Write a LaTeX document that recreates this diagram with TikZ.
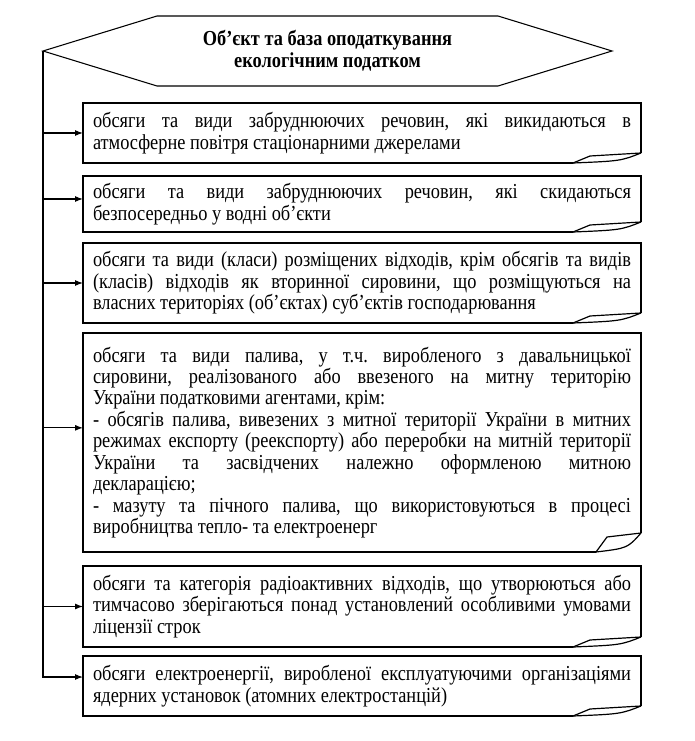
\documentclass[tikz,border=0pt]{standalone}
\usepackage{fontspec}
\setmainfont{Liberation Serif}[FakeStretch=0.86]
\usepackage{tikz}
\usetikzlibrary{arrows.meta, positioning, calc}

% outline of a text box with a curled bottom-right corner (sizes in px)
\newcommand{\pagecurl}[5]{%
  \draw[boxline] ($(#1.south east)+(-#2,0)$) -- (#1.south west) -- (#1.north west)
    -- (#1.north east) -- ($(#1.south east)+(0,-#3)$);
  \draw[boxline] ($(#1.south east)+(-#2,0)$) -- ($(#1.south east)+(-#4,-#5)$)
    -- ($(#1.south east)+(0,-#3)$);
  \draw[boxline] ($(#1.south east)+(-#2,0)$) .. controls ($(#1.south east)+(-0.3*#2,-0.2*#3)$)
    .. ($(#1.south east)+(0,-#3)$);
}

\begin{document}
\frenchspacing
\begin{tikzpicture}[
  x=0.75pt, y=-0.75pt,
  title/.style={rectangle, minimum width=426.75pt, minimum height=52.5pt, inner sep=0pt, outer sep=0pt,
    align=center, font=\fontsize{16}{16.5}\selectfont\bfseries},
  docbox/.style={rectangle, text width=403.5pt, inner xsep=7.5pt, inner ysep=0pt, outer sep=0pt,
    align=justify, font=\fontsize{16}{16.1}\selectfont},
  boxline/.style={draw=black, line width=0.9pt, line join=miter},
  hexline/.style={draw=black, line width=0.8pt},
  line/.style={draw=black, line width=0.8pt, -{Latex[length=6pt, width=4.5pt]}}
]
  \useasboundingbox (0,0) rectangle (694,741);

  \node[title] (hex) at (327.5,51) {Об’єкт та база оподаткування\\екологічним податком};
  \draw[hexline] (hex.west) -- ($(hex.north west)+(114,0)$) -- ($(hex.north east)+(-114,0)$)
    -- (hex.east) -- ($(hex.south east)+(-114,0)$) -- ($(hex.south west)+(114,0)$) -- cycle;

  \node[docbox, minimum height=45pt, anchor=north west] (air) at (83,103)
    {обсяги та види забруднюючих речовин, які викидаються в\linebreak
     атмосферне повітря стаціонарними джерелами};
  \node[docbox, minimum height=42pt, below=9.75pt of air] (water)
    {обсяги та види забруднюючих речовин, які скидаються\linebreak
     безпосередньо у водні об’єкти};
  \node[docbox, minimum height=60pt, below=8.25pt of water] (waste)
    {обсяги та види (класи) розміщених відходів, крім обсягів та видів\linebreak
     (класів) відходів як вторинної сировини, що розміщуються на\linebreak
     власних територіях (об'єктах) суб'єктів господарювання};
  \node[docbox, minimum height=164.25pt, below=7.5pt of waste] (fuel)
    {обсяги та види палива, у т.ч. виробленого з давальницької\linebreak
     сировини, реалізованого або ввезеного на митну територію\linebreak
     України податковими агентами, крім:\\
     - обсягів палива, вивезених з митної території України в митних\linebreak
     режимах експорту (реекспорту) або переробки на митній території\linebreak
     України та засвідчених належно оформленою митною\linebreak
     декларацією;\\
     - мазуту та пічного палива, що використовуються в процесі\linebreak
     виробництва тепло- та електроенерг};
  \node[docbox, minimum height=60.75pt, below=10.5pt of fuel] (radio)
    {обсяги та категорія радіоактивних відходів, що утворюються або\linebreak
     тимчасово зберігаються понад установлений особливими умовами\linebreak
     ліцензії строк};
  \node[docbox, minimum height=45pt, below=6.75pt of radio] (nuclear)
    {обсяги електроенергії, виробленої експлуатуючими організаціями\linebreak
     ядерних установок (атомних електростанцій)};

  \pagecurl{air}{68}{10}{51}{7}
  \pagecurl{water}{68}{10}{51}{7}
  \pagecurl{waste}{68}{10}{51}{7}
  \pagecurl{fuel}{45}{19}{34}{15}
  \pagecurl{radio}{68}{10}{51}{7}
  \pagecurl{nuclear}{68}{10}{51}{7}

  \coordinate (inwater) at ([yshift=3.75pt]water.west);
  \coordinate (infuel) at ([yshift=11pt]fuel.west);
  \coordinate (innuclear) at ([yshift=6.75pt]nuclear.west);

  \path[line] (hex.west) |- (innuclear);
  \path[line] (hex.west |- air.west) -- (air.west);
  \path[line] (hex.west |- inwater) -- (inwater);
  \path[line] (hex.west |- waste.west) -- (waste.west);
  \path[line] (hex.west |- infuel) -- (infuel);
  \path[line] (hex.west |- radio.west) -- (radio.west);
\end{tikzpicture}
\end{document}
